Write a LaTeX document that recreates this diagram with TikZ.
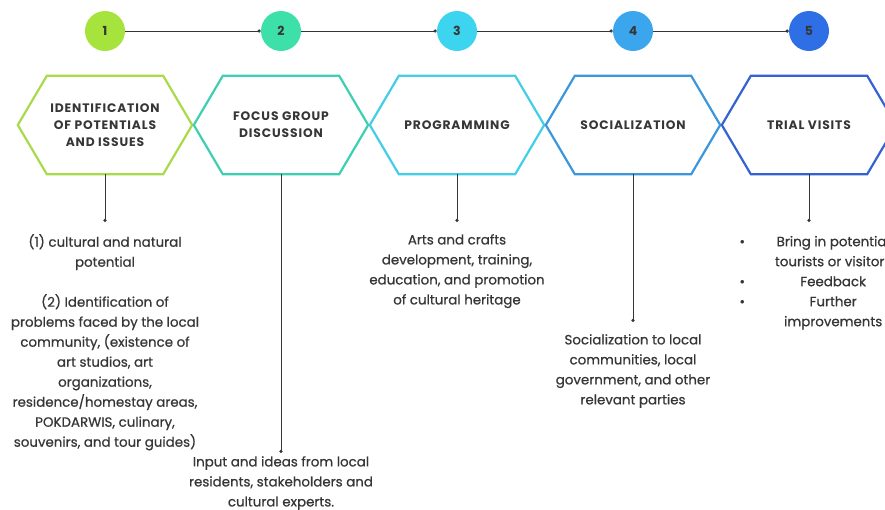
\documentclass[tikz,border=0pt]{standalone}
\usepackage{fontspec}
\setmainfont{Poppins}
\newfontfamily\bodyfont{Poppins}[FakeBold=0.7]
\newfontfamily\headfont{Poppins}[LetterSpace=7]
\usetikzlibrary{calc,arrows.meta}
\definecolor{cA}{HTML}{A6E33C}
\definecolor{cB}{HTML}{3EE0AA}
\definecolor{cC}{HTML}{3CD4EF}
\definecolor{cD}{HTML}{3BA6EE}
\definecolor{cE}{HTML}{2F6FE6}
\definecolor{hA}{HTML}{A8DA4A}
\definecolor{hB}{HTML}{3ECFB2}
\definecolor{hC}{HTML}{44CDE6}
\definecolor{hD}{HTML}{3C96DC}
\definecolor{hE}{HTML}{3462D2}
\definecolor{ink}{HTML}{363636}
\begin{document}
\begin{tikzpicture}[x=1pt,y=-1pt,
  numcirc/.style={circle, fill=#1, minimum size=40pt, inner sep=0pt,
    font=\fontsize{12.5}{14}\selectfont\bfseries, text=ink},
  hexbox/.style={minimum width=174pt, minimum height=98pt, inner sep=0pt,
    align=center, font=\headfont\fontsize{12.3}{16.7}\selectfont\bfseries, text=ink},
  link/.style={draw=ink, line width=0.9pt, -{Circle[length=3.2pt]}},
  body/.style={align=center, font=\bodyfont\fontsize{13.4}{20}\selectfont, text=ink,
    inner xsep=0pt},
  hexline/.style={draw=#1, line width=2.2pt, line join=miter}
]
\useasboundingbox (0,0) rectangle (885,509);

% number circles
\node[numcirc=cA] (c1) at (105,31) {1};
\node[numcirc=cB] (c2) at (281,31) {2};
\node[numcirc=cC] (c3) at (457,31) {3};
\node[numcirc=cD] (c4) at (633,31) {4};
\node[numcirc=cE] (c5) at (809,31) {5};
\draw[link] (c1) -- (c2);
\draw[link] (c2) -- (c3);
\draw[link] (c3) -- (c4);
\draw[link] (c4) -- (c5);

% hexagon labels
\node[hexbox] (h1) at (105,125) {IDENTIFICATION\\OF POTENTIALS\\AND ISSUES};
\node[hexbox] (h2) at (281,125) {FOCUS GROUP\\DISCUSSION};
\node[hexbox] (h3) at (457,125) {PROGRAMMING};
\node[hexbox] (h4) at (633,125) {SOCIALIZATION};
\node[hexbox] (h5) at (809,125) {TRIAL VISITS};
\foreach \i/\c in {1/hA,2/hB,3/hC,4/hD,5/hE}{
  \draw[hexline=\c] ($(h\i.north west)+(29,0)$) -- ($(h\i.north east)+(-29,0)$)
    -- (h\i.east) -- ($(h\i.south east)+(-29,0)$) -- ($(h\i.south west)+(29,0)$)
    -- (h\i.west) -- cycle;
}

% descriptions
\node[body, anchor=north, inner ysep=12pt] (t1) at (105,222)
  {(1) cultural and natural\\potential\\[20pt](2) Identification of\\problems faced by the local\\community, (existence of\\art studios, art\\organizations,\\residence/homestay areas,\\POKDARWIS, culinary,\\souvenirs, and tour guides)};
\node[body, anchor=north, inner ysep=3pt] (t2) at (281,453)
  {Input and ideas from local\\residents, stakeholders and\\cultural experts.};
\node[body, anchor=north, inner ysep=12pt] (t3) at (457,222)
  {Arts and crafts\\development, training,\\education, and promotion\\of cultural heritage};
\node[body, anchor=north, inner ysep=12pt] (t4) at (633,322)
  {Socialization to local\\communities, local\\government, and other\\relevant parties};
\node[body, anchor=north west, inner ysep=10pt] (t5) at (737,222)
  {\begin{tabular}{@{}c@{}c@{}}
   \makebox[10pt]{•} & \makebox[172pt]{Bring in potential}\\
    & \makebox[172pt]{tourists or visitors}\\
   \makebox[10pt]{•} & \makebox[172pt]{Feedback}\\
   \makebox[10pt]{•} & \makebox[172pt]{Further}\\
    & \makebox[172pt]{improvements}
  \end{tabular}};

\draw[link] (h1.south) -- (t1.north);
\draw[link] (h2.south) -- (t2.north);
\draw[link] (h3.south) -- (t3.north);
\draw[link] (h4.south) -- (t4.north);
\draw[link] (h5.south) -- (h5.south |- t5.north);
\end{tikzpicture}
\end{document}
